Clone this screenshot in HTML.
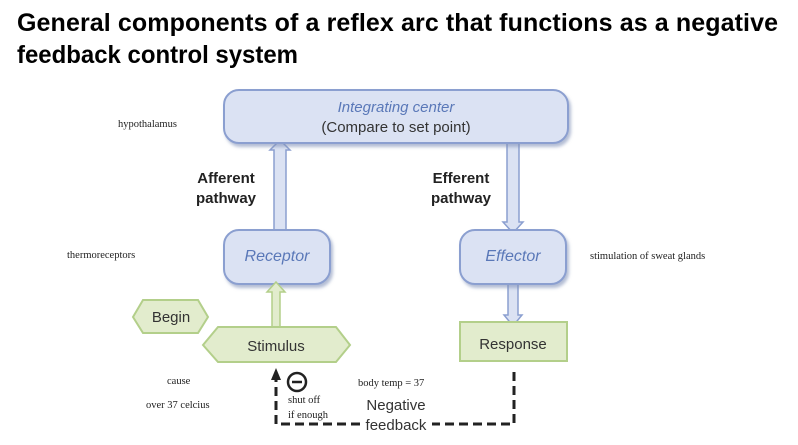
<!DOCTYPE html>
<html><head><meta charset="utf-8"><style>
html,body{margin:0;padding:0;background:#fff;}
svg{display:block;}
</style></head><body>
<svg width="798" height="445" viewBox="0 0 798 445" xmlns="http://www.w3.org/2000/svg">
<defs>
<filter id="sh" x="-10%" y="-10%" width="130%" height="140%"><feDropShadow dx="2" dy="3" stdDeviation="1.5" flood-color="#8090b8" flood-opacity="0.6"/></filter>
</defs>
<g font-family="Liberation Sans, sans-serif" font-weight="bold" font-size="25" fill="#000">
<text x="17" y="31" textLength="761" lengthAdjust="spacing">General components of a reflex arc that functions as a negative</text>
<text x="17" y="63" textLength="281" lengthAdjust="spacingAndGlyphs">feedback control system</text>
</g>
<path d="M274 232 L274 150 L270 150 L280 140 L290 150 L286 150 L286 232 Z" fill="#dbe2f3" stroke="#8b9fd0" stroke-width="1.5"/>
<path d="M507 140 L507 222 L503 222 L513 233 L523 222 L519 222 L519 140 Z" fill="#dbe2f3" stroke="#8b9fd0" stroke-width="1.5"/>
<path d="M508 280 L508 315 L504 315 L513 326 L522 315 L518 315 L518 280 Z" fill="#dbe2f3" stroke="#8b9fd0" stroke-width="1.5"/>
<rect x="224" y="90" width="344" height="53" rx="15" fill="#dbe2f3" stroke="#8b9fd0" stroke-width="2" filter="url(#sh)"/>
<text x="396" y="112" text-anchor="middle" font-family="Liberation Sans, sans-serif" font-style="italic" font-size="15" fill="#5a78b8">Integrating center</text>
<text x="396" y="132" text-anchor="middle" font-family="Liberation Sans, sans-serif" font-size="15" fill="#333">(Compare to set point)</text>
<rect x="224" y="230" width="106" height="54" rx="15" fill="#dbe2f3" stroke="#8b9fd0" stroke-width="2" filter="url(#sh)"/>
<text x="277" y="261" text-anchor="middle" font-family="Liberation Sans, sans-serif" font-style="italic" font-size="16" fill="#5a78b8">Receptor</text>
<rect x="460" y="230" width="106" height="54" rx="15" fill="#dbe2f3" stroke="#8b9fd0" stroke-width="2" filter="url(#sh)"/>
<text x="513" y="261" text-anchor="middle" font-family="Liberation Sans, sans-serif" font-style="italic" font-size="16" fill="#5a78b8">Effector</text>
<g font-family="Liberation Sans, sans-serif" font-weight="bold" font-size="15" fill="#222" text-anchor="middle">
<text x="226" y="183">Afferent</text><text x="226" y="203">pathway</text>
<text x="461" y="183">Efferent</text><text x="461" y="203">pathway</text>
</g>
<path d="M272 327 L272 292 L267 292 L276 282 L285 292 L280 292 L280 327 Z" fill="#e2eccd" stroke="#b3cf8a" stroke-width="1.5"/>
<polygon points="203,345 218,327 336,327 350,345 336,362 218,362" fill="#e2eccd" stroke="#b3cf8a" stroke-width="2"/>
<text x="276" y="351" text-anchor="middle" font-family="Liberation Sans, sans-serif" font-size="15" fill="#333">Stimulus</text>
<polygon points="133,317 143,300 198,300 208,317 198,333 143,333" fill="#e2eccd" stroke="#b3cf8a" stroke-width="2"/>
<text x="171" y="322" text-anchor="middle" font-family="Liberation Sans, sans-serif" font-size="15" fill="#333">Begin</text>
<rect x="460" y="322" width="107" height="39" fill="#e2eccd" stroke="#b3cf8a" stroke-width="2"/>
<text x="513" y="349" text-anchor="middle" font-family="Liberation Sans, sans-serif" font-size="15" fill="#333">Response</text>
<path d="M514 372 L514 424 L432 424 M360 424 L276 424 L276 376" fill="none" stroke="#222" stroke-width="3" stroke-dasharray="9,5"/>
<polygon points="271,380 276,368 281,380" fill="#222"/>
<circle cx="297" cy="382" r="9" fill="none" stroke="#222" stroke-width="2.5"/>
<line x1="292" y1="382" x2="302" y2="382" stroke="#222" stroke-width="2.5"/>
<text x="396" y="410" text-anchor="middle" font-family="Liberation Sans, sans-serif" font-size="15" fill="#333">Negative</text>
<text x="396" y="430" text-anchor="middle" font-family="Liberation Sans, sans-serif" font-size="15" fill="#333">feedback</text>
<g font-family="Liberation Serif, serif" font-size="10.5" fill="#222">
<text x="118" y="127">hypothalamus</text>
<text x="67" y="258">thermoreceptors</text>
<text x="590" y="259">stimulation of sweat glands</text>
<text x="167" y="384">cause</text>
<text x="146" y="408">over 37 celcius</text>
<text x="288" y="403">shut off</text>
<text x="288" y="418">if enough</text>
<text x="358" y="386">body temp = 37</text>
</g>
</svg>
</body></html>
